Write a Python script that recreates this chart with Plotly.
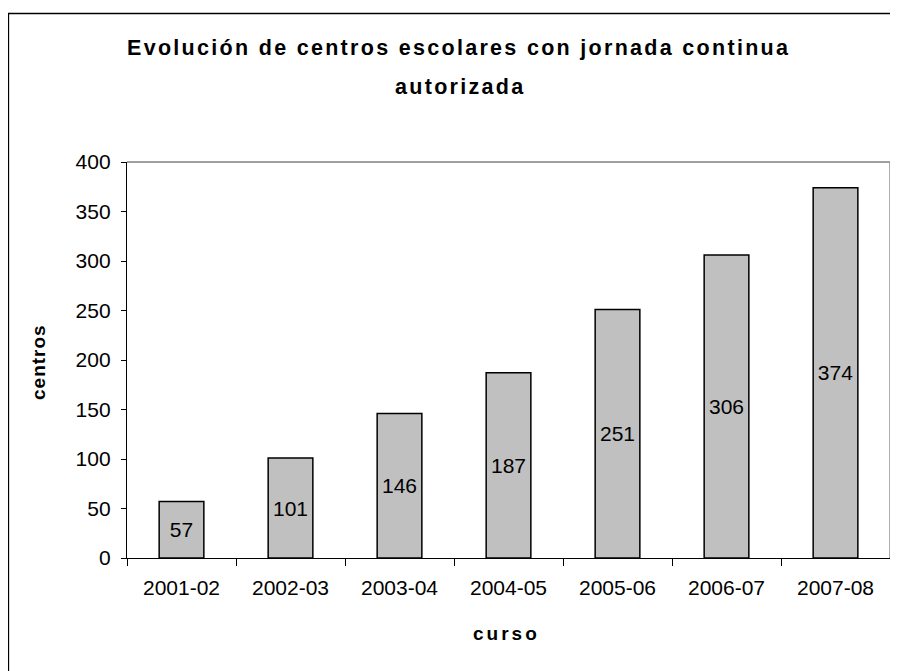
import plotly.graph_objects as go

cursos = ["2001-02", "2002-03", "2003-04", "2004-05", "2005-06", "2006-07", "2007-08"]
centros = [57, 101, 146, 187, 251, 306, 374]
y_ticks = [0, 50, 100, 150, 200, 250, 300, 350, 400]

title_line1 = "Evolución de centros escolares con jornada continua"
title_line2 = "autorizada"
x_title = "curso"
y_title = "centros"

OFF = 8  # page body margin
W, H = 898, 671
L, R, T, B = 119, 16, 154, 121
PW = W - L - R
PH = H - T - B


def px(x):
    return (x - OFF - L) / PW


def py(y):
    return (H - B - (y - OFF)) / PH


def spaced(s, sp):
    return f'<span style="letter-spacing:{sp}px">{s}</span>'


font_b = "Liberation Sans, Arial, sans-serif"

fig = go.Figure()
fig.add_trace(go.Bar(
    x=cursos, y=centros,
    marker=dict(color="#C0C0C0", line=dict(color="black", width=1.5)),
    width=0.41,
    text=[str(v) for v in centros],
    textposition="inside",
    insidetextanchor="middle",
    textangle=0,
    textfont=dict(family=font_b, size=21, color="black"),
    hoverinfo="skip",
))

annotations = [
    dict(text="<b>" + spaced(title_line1, 2.3) + "</b>", x=px(458), y=py(48), xref="paper", yref="paper",
         showarrow=False, xanchor="center", yanchor="middle",
         font=dict(family=font_b, size=21.5, color="black")),
    dict(text="<b>" + spaced(title_line2, 2.3) + "</b>", x=px(460), y=py(87), xref="paper", yref="paper",
         showarrow=False, xanchor="center", yanchor="middle",
         font=dict(family=font_b, size=21.5, color="black")),
    dict(text="<b>" + spaced(x_title, 3) + "</b>", x=px(506), y=py(633), xref="paper", yref="paper",
         showarrow=False, xanchor="center", yanchor="middle",
         font=dict(family=font_b, size=19, color="black")),
    dict(text="<b>" + spaced(y_title, 1) + "</b>", x=px(38), y=py(362), xref="paper", yref="paper",
         showarrow=False, xanchor="center", yanchor="middle", textangle=-90,
         font=dict(family=font_b, size=19, color="black")),
]

shapes = [
    dict(type="rect", xref="paper", yref="paper", x0=px(8.5), x1=px(930), y0=py(700), y1=py(13.5),
         line=dict(color="black", width=1.3), fillcolor="rgba(0,0,0,0)", layer="below"),
    dict(type="line", xref="paper", yref="paper", x0=0, x1=1, y0=1, y1=1,
         line=dict(color="#808080", width=1.3)),
    dict(type="line", xref="paper", yref="paper", x0=1, x1=1, y0=0, y1=1,
         line=dict(color="#808080", width=1.3)),
]

fig.update_layout(
    width=W, height=H,
    margin=dict(l=L, r=R, t=T, b=B, pad=0),
    paper_bgcolor="white", plot_bgcolor="white",
    showlegend=False,
    annotations=annotations,
    shapes=shapes,
    font=dict(family=font_b, color="black"),
    bargap=0.6,
)

fig.update_xaxes(
    type="category", range=[-0.5, 6.5],
    showline=True, linecolor="black", linewidth=1.3,
    ticks="outside", ticklen=7, tickcolor="black", tickwidth=1,
    tickson="boundaries",
    showgrid=False, zeroline=False,
    tickfont=dict(family=font_b, size=21, color="black"),
    ticklabelstandoff=11,
)
fig.update_yaxes(
    range=[0, 400], tickvals=y_ticks,
    showline=True, linecolor="black", linewidth=1.3,
    ticks="outside", ticklen=5, tickcolor="black", tickwidth=1,
    showgrid=False, zeroline=False,
    tickfont=dict(family=font_b, size=21, color="black"),
    ticklabelstandoff=6,
)

fig.write_html("out.html")
